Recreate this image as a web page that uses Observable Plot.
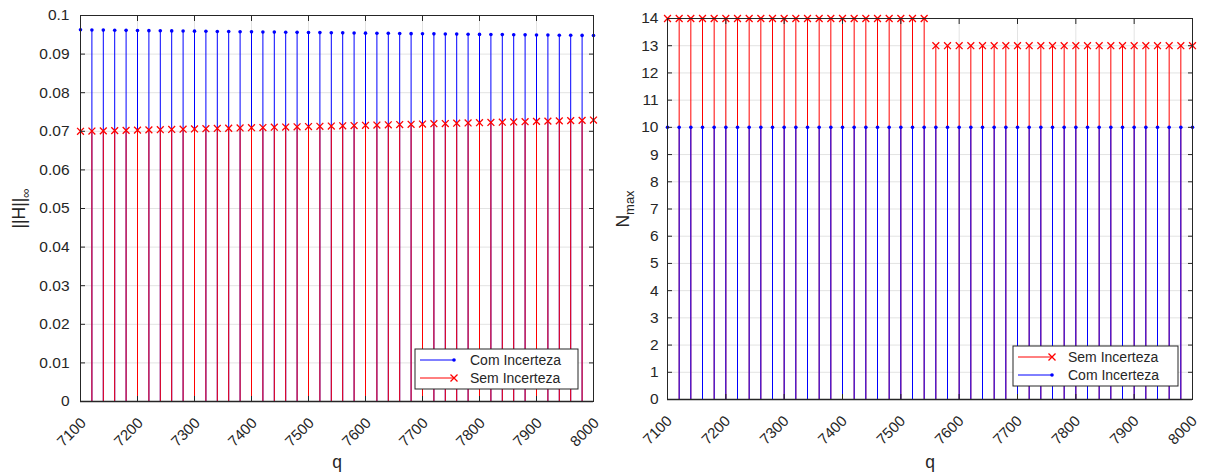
<!DOCTYPE html>
<html><head><meta charset="utf-8">
<script src="https://cdn.jsdelivr.net/npm/d3@7"></script>
<script src="https://cdn.jsdelivr.net/npm/@observablehq/plot@0.6"></script>
<style>
body{margin:0;background:#fff;}
#wrap{position:relative;width:1205px;height:476px;}
#wrap svg{position:absolute;top:0;overflow:visible;}
</style></head><body><div id="wrap"></div>
<script>
const q = [7100,7120,7140,7160,7180,7200,7220,7240,7260,7280,7300,7320,7340,7360,7380,7400,7420,7440,7460,7480,7500,7520,7540,7560,7580,7600,7620,7640,7660,7680,7700,7720,7740,7760,7780,7800,7820,7840,7860,7880,7900,7920,7940,7960,7980,8000];
const hCom = [0.09630,0.09626,0.09622,0.09619,0.09615,0.09612,0.09608,0.09605,0.09601,0.09598,
  0.09594,0.09591,0.09587,0.09584,0.09580,0.09577,0.09573,0.09570,0.09567,0.09563,
  0.09560,0.09557,0.09553,0.09550,0.09547,0.09543,0.09540,0.09537,0.09534,0.09530,
  0.09527,0.09524,0.09521,0.09518,0.09514,0.09511,0.09508,0.09505,0.09502,0.09499,
  0.09496,0.09493,0.09490,0.09487,0.09484,0.09481];
const hSem = [0.07000,0.07006,0.07012,0.07018,0.07024,0.07030,0.07036,0.07042,0.07048,0.07054,
  0.07061,0.07067,0.07073,0.07079,0.07086,0.07092,0.07098,0.07105,0.07111,0.07117,
  0.07124,0.07130,0.07137,0.07143,0.07150,0.07156,0.07163,0.07169,0.07176,0.07182,
  0.07189,0.07196,0.07202,0.07209,0.07216,0.07222,0.07229,0.07236,0.07243,0.07249,
  0.07256,0.07263,0.07270,0.07277,0.07284,0.07291];
const nSem = [14,14,14,14,14,14,14,14,14,14,14,14,14,14,14,14,14,14,14,14,14,14,14,
  13,13,13,13,13,13,13,13,13,13,13,13,13,13,13,13,13,13,13,13,13,13,13];
const nCom = [10,10,10,10,10,10,10,10,10,10,10,10,10,10,10,10,10,10,10,10,10,10,10,
  10,10,10,10,10,10,10,10,10,10,10,10,10,10,10,10,10,10,10,10,10,10,10];
const xTicks = [7100,7200,7300,7400,7500,7600,7700,7800,7900,8000];
const yTicksL = [0,0.01,0.02,0.03,0.04,0.05,0.06,0.07,0.08,0.09,0.1];
const yTicksR = [0,1,2,3,4,5,6,7,8,9,10,11,12,13,14];
const nameCom = "Com Incerteza";
const nameSem = "Sem Incerteza";

const C = "#262626";
const FONT = "'Liberation Sans', Arial, Helvetica, sans-serif";
const BLUE = "#0000ff", RED = "#ff0000";
const FS = 15.5;

function stemMarks(vals, color, kind) {
  const data = q.map((x, i) => ({x, y: vals[i]}));
  const marks = [Plot.ruleX(data, {x: "x", y1: 0, y2: "y", stroke: color, strokeWidth: 1})];
  if (kind === "dot") marks.push(Plot.dot(data, {x: "x", y: "y", r: 1.8, fill: color, stroke: "none"}));
  else marks.push(Plot.dot(data, {x: "x", y: "y", r: 3.2, symbol: "times", stroke: color, strokeWidth: 1.3}));
  return marks;
}

function panel(o) {
  const svg = Plot.plot({
    width: o.width, height: 476,
    marginLeft: o.ml, marginRight: o.mr, marginTop: o.mt, marginBottom: o.mb,
    style: {fontFamily: FONT, fontSize: FS + "px", color: C, background: "transparent", overflow: "visible"},
    x: {domain: [7100, 8000]},
    y: {domain: o.yDomain},
    marks: [
      Plot.gridY(o.yTicks, {stroke: "#e3e3e3", strokeOpacity: 1}),
      Plot.gridX(xTicks, {stroke: "#e3e3e3", strokeOpacity: 1}),
      ...o.series.flatMap(s => stemMarks(s.vals, s.color, s.kind)),
      Plot.frame({stroke: C, strokeWidth: 1}),
      Plot.ruleY([0], {stroke: C, strokeWidth: 1.6}),
      Plot.axisY({anchor: "left", ticks: o.yTicks, tickSize: 5, dx: 5, tickFormat: () => null, label: null, stroke: C}),
      Plot.axisY({anchor: "right", ticks: o.yTicks, tickSize: 5, dx: -5, tickFormat: () => null, label: null, stroke: C}),
      Plot.axisX({anchor: "bottom", ticks: xTicks, tickSize: 5, dy: -5, tickFormat: () => null, label: null, stroke: C}),
      Plot.axisX({anchor: "top", ticks: xTicks, tickSize: 5, dy: 5, tickFormat: () => null, label: null, stroke: C}),
      Plot.text(o.yTicks, {y: d => d, frameAnchor: "left", text: d => String(+d.toFixed(2)), textAnchor: "end", lineAnchor: "middle", dx: -o.yPad, fontSize: FS, fill: C}),
      Plot.text(xTicks, {x: d => d, frameAnchor: "bottom", text: d => String(d), rotate: -45, textAnchor: "end", lineAnchor: "middle", dx: o.xdx, dy: 19, fontSize: 15, fill: C}),
      Plot.text([o.ylab], {frameAnchor: "left", text: d => d, rotate: -90, dx: o.ylabDx, lineAnchor: "middle", textAnchor: "middle", fontSize: 17.5, fill: C}),
      Plot.text(["q"], {frameAnchor: "bottom", text: d => d, dy: o.qdy, lineAnchor: "middle", fontSize: 17.5, fill: C})
    ]
  });
  // subscripts in y label
  svg.querySelectorAll("text").forEach(t => {
    if (t.textContent === o.ylab) {
      t.textContent = o.ylabMain;
      const ts = document.createElementNS("http://www.w3.org/2000/svg", "tspan");
      ts.setAttribute("dy", "5");
      ts.setAttribute("font-size", "13");
      ts.textContent = o.ylabSub;
      t.appendChild(ts);
    }
  });
  // legend
  const s = d3.select(svg);
  const L = o.legend;
  const g = s.append("g").attr("font-family", FONT).attr("font-size", 14).attr("text-anchor", "start");
  g.append("rect").attr("x", L.x).attr("y", L.y).attr("width", L.w).attr("height", L.h)
    .attr("fill", "#fff").attr("stroke", C).attr("stroke-width", 1);
  L.items.forEach((it, i) => {
    const yy = L.y + L.row0 + i * L.rowStep;
    g.append("line").attr("x1", L.x + 5).attr("x2", L.x + 39).attr("y1", yy).attr("y2", yy)
      .attr("stroke", it.color).attr("stroke-width", 1);
    if (it.kind === "dot") {
      g.append("circle").attr("cx", L.x + 39).attr("cy", yy).attr("r", 1.8).attr("fill", it.color);
    } else {
      g.append("path").attr("d", `M${L.x+35.5},${yy-3.5}L${L.x+42.5},${yy+3.5}M${L.x+35.5},${yy+3.5}L${L.x+42.5},${yy-3.5}`)
        .attr("stroke", it.color).attr("stroke-width", 1.3);
    }
    g.append("text").attr("x", L.x + 55).attr("y", yy).attr("dy", "0.35em").attr("fill", C).text(it.name);
  });
  svg.style.left = o.left + "px";
  return svg;
}

const wrap = document.getElementById("wrap");
wrap.appendChild(panel({
  left: 0, width: 600, ml: 80, mr: 7, mt: 15, mb: 75,
  yDomain: [0, 0.1], yTicks: yTicksL, yPad: 11, xdx: 3,
  series: [{vals: hCom, color: BLUE, kind: "dot"}, {vals: hSem, color: RED, kind: "x"}],
  ylab: "||H||∞", ylabMain: "||H||", ylabSub: "∞", ylabDx: -61, qdy: 61,
  legend: {x: 415, y: 349, w: 163, h: 40, row0: 11, rowStep: 18,
    items: [{name: nameCom, color: BLUE, kind: "dot"}, {name: nameSem, color: RED, kind: "x"}]}
}));
wrap.appendChild(panel({
  left: 600, width: 605, ml: 67, mr: 13, mt: 18, mb: 77,
  yDomain: [0, 14], yTicks: yTicksR, yPad: 9, xdx: 2,
  series: [{vals: nSem, color: RED, kind: "x"}, {vals: nCom, color: BLUE, kind: "dot"}],
  ylab: "Nmax", ylabMain: "N", ylabSub: "max", ylabDx: -44, qdy: 63,
  legend: {x: 413, y: 346, w: 165, h: 40, row0: 11, rowStep: 18,
    items: [{name: nameSem, color: RED, kind: "x"}, {name: nameCom, color: BLUE, kind: "dot"}]}
}));
</script></body></html>
